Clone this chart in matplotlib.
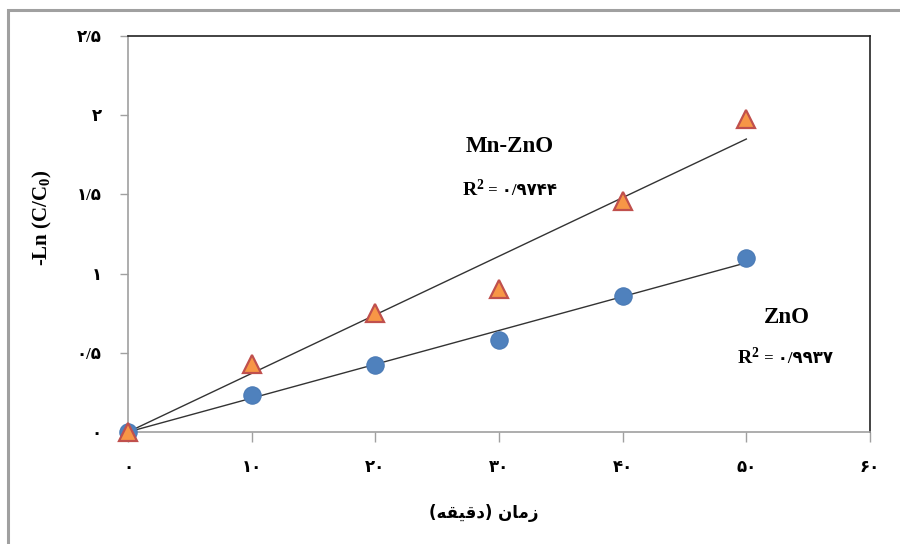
import numpy as np
import matplotlib
matplotlib.use("Agg")
import matplotlib.pyplot as plt
from matplotlib.patches import Rectangle

plt.rcParams['font.family'] = ['Liberation Serif', 'DejaVu Sans']
plt.rcParams['mathtext.fontset'] = 'custom'
plt.rcParams['mathtext.rm'] = 'Liberation Serif:bold'
plt.rcParams['mathtext.it'] = 'Liberation Serif:bold'
plt.rcParams['mathtext.bf'] = 'Liberation Serif:bold'

# data
time_min = [0, 10, 20, 30, 40, 50]
zno = [0.0, 0.233, 0.42, 0.58, 0.86, 1.10]
mn_zno = [0.0, 0.43, 0.75, 0.90, 1.46, 1.975]

x_ticks = [0, 10, 20, 30, 40, 50, 60]
x_labels = ['۰', '۱۰', '۲۰', '۳۰', '۴۰', '۵۰', '۶۰']
y_ticks = [0, 0.5, 1, 1.5, 2, 2.5]
y_labels = ['۰', '۰/۵', '۱', '۱/۵', '۲', '۲/۵']

r2_zno = '۰/۹۹۳۷'
r2_mn = '۰/۹۷۴۴'
# "زمان (دقیقه)" written in shaped, visual order (matplotlib has no bidi shaping)
x_title = '(\ufeea\ufed8\ufbff\ufed7\ufea9) \ufee5\ufe8e\ufee3\ufeaf'

fig = plt.figure(figsize=(9, 5.44), dpi=100)
ax = fig.add_axes([128 / 900, 112 / 544, 742 / 900, 396 / 544])

# outer frame
fig.patches.append(Rectangle((8 / 900, -0.01), 1.0, (534 / 544) + 0.01, transform=fig.transFigure,
                             fill=False, edgecolor='#a0a0a0', linewidth=2.2))

# trendlines through origin
x = np.array(time_min, dtype=float)
for ys in (zno, mn_zno):
    y = np.array(ys)
    k = (x * y).sum() / (x * x).sum()
    ax.plot([0, 50], [0, 50 * k], color='#333333', linewidth=1.0, zorder=2)

ax.plot(time_min, zno, 'o', markersize=12.5, color='#4f81bd', markeredgecolor='#4a7ab5',
        markeredgewidth=0.8, zorder=3, clip_on=False)
ax.plot(time_min, mn_zno, '^', markersize=13, color='#f79646', markeredgecolor='#c0504d',
        markeredgewidth=1.6, zorder=4, clip_on=False)

ax.set_xlim(0, 60)
ax.set_ylim(0, 2.5)
ax.set_xticks(x_ticks)
ax.set_xticklabels(x_labels, fontsize=12, fontweight='bold')
ax.set_yticks(y_ticks)
ax.set_yticklabels(y_labels, fontsize=12, fontweight='bold')
ax.tick_params(axis='x', direction='out', length=7, width=1, color='#a0a0a0', pad=13)
ax.tick_params(axis='y', direction='out', length=6, width=1, color='#a0a0a0', pad=13)

for s in ('left', 'bottom'):
    ax.spines[s].set_color('#a0a0a0')
    ax.spines[s].set_linewidth(1.2)
for s in ('top', 'right'):
    ax.spines[s].set_color('#222222')
    ax.spines[s].set_linewidth(1.2)

ax.text(30.9, 1.80, 'Mn-ZnO', fontsize=16.5, fontweight='bold', ha='center', va='center')
ax.text(28.8, 1.53, 'R$^2$', fontsize=14, fontweight='bold', ha='right', va='center')
ax.text(28.8, 1.52, ' = ' + r2_mn, fontsize=12, fontweight='bold', ha='left', va='center')
ax.text(53.3, 0.72, 'ZnO', fontsize=16.5, fontweight='bold', ha='center', va='center')
ax.text(51.1, 0.47, 'R$^2$', fontsize=14, fontweight='bold', ha='right', va='center')
ax.text(51.1, 0.46, ' = ' + r2_zno, fontsize=12, fontweight='bold', ha='left', va='center')

fig.text(484 / 900, 1 - 513 / 544, x_title, fontsize=12, fontweight='bold',
         family='DejaVu Sans', ha='center', va='center')
fig.text(42 / 900, 1 - 218 / 544, '-Ln (C/C$_0$)', fontsize=15, fontweight='bold',
         rotation=90, ha='center', va='center')

fig.savefig('out.png', dpi=100)
